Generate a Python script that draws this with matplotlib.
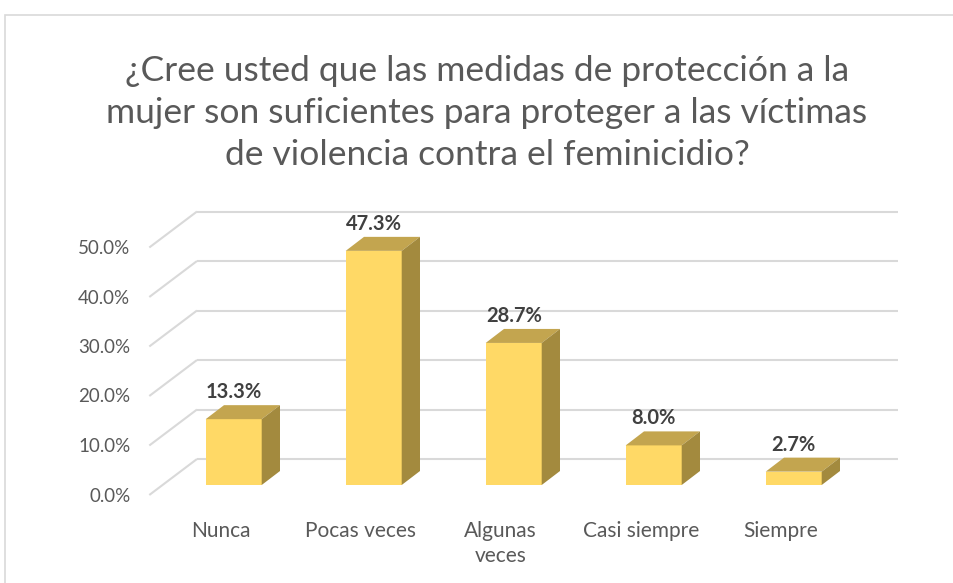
import matplotlib
matplotlib.use("Agg")
import matplotlib.pyplot as plt
from matplotlib.patches import Polygon, Rectangle
from matplotlib.transforms import offset_copy

# ---- data ----
categories = ["Nunca", "Pocas veces", "Algunas\nveces", "Casi siempre", "Siempre"]
values = [13.3, 47.3, 28.7, 8.0, 2.7]
yticks = [0, 10, 20, 30, 40, 50]
ytick_labels = ["0.0%", "10.0%", "20.0%", "30.0%", "40.0%", "50.0%"]
title = ("¿Cree usted que las medidas de protección a la\n"
         "mujer son suficientes para proteger a las víctimas\n"
         "de violencia contra el feminicidio?")

FONT = ["Lato", "DejaVu Sans"]
plt.rcParams["font.family"] = FONT

W, H = 954, 583
fig = plt.figure(figsize=(W / 100, H / 100), dpi=100)
fig.patch.set_facecolor("white")

# pixel mapping (layout)
px_x = 140.0          # px per category
px_y = 4.95           # px per percent
x0_px = 233.7         # px of category 0
y0_px = 485.0         # px (from top) of value 0 at bar front plane
xlim = (-1.0, 5.0)
ylim = (-8.0, 60.0)
left = (x0_px + xlim[0] * px_x) / W
width = (xlim[1] - xlim[0]) * px_x / W
bottom = (H - (y0_px - ylim[0] * px_y)) / H
height = (ylim[1] - ylim[0]) * px_y / H
ax = fig.add_axes([left, bottom, width, height])
ax.set_xlim(*xlim)
ax.set_ylim(*ylim)
ax.axis("off")

# depth geometry (data units)
wall_dx, wall_dy = 34.7 / px_x, 26.0 / px_y
front_dx, front_dy = -13.0 / px_x, -10.0 / px_y
bar_dx, bar_dy = 18.3 / px_x, 14.0 / px_y
wall_left = -0.51 + wall_dx
wall_right = 4.745
front_left = -0.51 + front_dx
bw = 0.4

grid_c = "#d9d9d9"
for v in yticks:
    ax.plot([wall_left, wall_right], [v + wall_dy, v + wall_dy], color=grid_c, lw=1.5,
            solid_capstyle="butt", zorder=1)
    ax.plot([front_left, wall_left], [v + front_dy, v + wall_dy], color=grid_c, lw=1.5,
            solid_capstyle="butt", zorder=1)

lab_tr = offset_copy(ax.transData, fig=fig, x=-19, y=-1, units="dots")
for v, lab in zip(yticks, ytick_labels):
    ax.text(front_left, v + front_dy, lab, transform=lab_tr, ha="right", va="center",
            fontsize=13.5, color="#595959")

front_c, top_c, side_c = "#FFD966", "#C3A54F", "#A38A3E"
xs = list(range(len(values)))
ax.bar(xs, values, width=bw, color=front_c, zorder=3, linewidth=0)
for x, v in zip(xs, values):
    xl, xr = x - bw / 2, x + bw / 2
    top = Polygon([(xl, v), (xr, v), (xr + bar_dx, v + bar_dy), (xl + bar_dx, v + bar_dy)],
                  closed=True, facecolor=top_c, edgecolor="none", zorder=3)
    side = Polygon([(xr, 0), (xr, v), (xr + bar_dx, v + bar_dy), (xr + bar_dx, bar_dy)],
                   closed=True, facecolor=side_c, edgecolor="none", zorder=3)
    ax.add_patch(top)
    ax.add_patch(side)

val_tr = offset_copy(ax.transData, fig=fig, x=0, y=3, units="dots")
for x, v in zip(xs, values):
    ax.text(x, v + bar_dy, f"{v:.1f}%", transform=val_tr, ha="center", va="bottom",
            fontsize=14.5, fontweight="bold", color="#404040", zorder=4)

cat_tr = offset_copy(ax.transData, fig=fig, x=0, y=-26, units="dots")
for x, c in zip(xs, categories):
    ax.text(x + front_dx, front_dy, c, transform=cat_tr, ha="center", va="top",
            fontsize=15, color="#595959", linespacing=1.3)

fig.text(487 / W, 1 - 113 / H, title, ha="center", va="center", fontsize=25.5,
         color="#595959", linespacing=1.4)

# chart border (left and top visible)
fig.patches.append(Rectangle((5 / W, -0.1), 1.2, 1 - 15 / H + 0.1, transform=fig.transFigure,
                             fill=False, edgecolor="#d9d9d9", lw=1.2))

fig.savefig("out.png", dpi=100)
